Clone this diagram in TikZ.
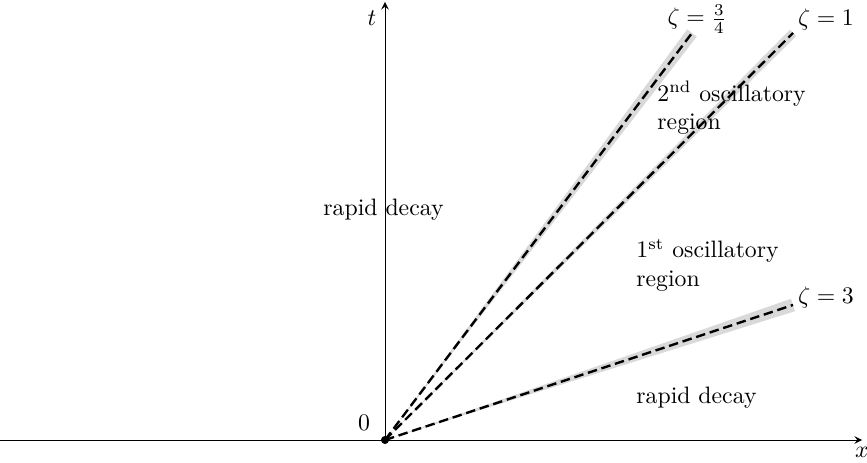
\documentclass[tikz,border=0pt]{standalone}
\usepackage{amsmath,amssymb}
\usetikzlibrary{arrows}

\tikzset{ray/.style={line width=1pt,dash pattern=on 4pt off 2pt},
band/.style={fill=black!15,draw=none}}

\begin{document}
\begin{tikzpicture}[x=0.0148cm,y=0.0148cm]
\useasboundingbox (-385,-23) rectangle (482,440);

\coordinate (O) at (0,0);
\coordinate (X0) at (-385,0);
\coordinate (X1) at (477,0);
\coordinate (T1) at (0,438);

\coordinate (E1) at (307,407);
\coordinate (E2) at (408,407);
\coordinate (E3) at (408,135);

\fill[band] (O) -- (302.2,410.6) -- (311.8,403.4) -- cycle;
\fill[band] (O) -- (404.8,410.2) -- (411.2,403.8) -- cycle;
\fill[band] (O) -- (406,141.2) -- (410,128.8) -- cycle;

\path[->, >=stealth] (X0) edge [] node[]{} (X1);
\path[->, >=stealth] (O) edge [] node[]{} (T1);

\draw[ray] (O) -- (E1);
\draw[ray] (O) -- (E2);
\draw[ray] (O) -- (E3);

\fill (O) circle (1.7pt);

\node[] (Lx) at (477,-12) {$x$};
\node[] (Lt) at (-13,422) {$t$};
\node[] (L0) at (-21,17) {$0$};

\node[] (Z1) at (312,421) {$\zeta=\frac{3}{4}$};
\node[] (Z2) at (441,420) {$\zeta=1$};
\node[] (Z3) at (441,142) {$\zeta=3$};

\node[] (R1) at (-1.5,230) {rapid decay};
\node[anchor=west,align=left] (R2) at (264,332) {2\textsuperscript{nd} oscillatory\\region};
\node[anchor=west,align=left] (R3) at (243,175) {1\textsuperscript{st} oscillatory\\region};
\node[anchor=west] (R4) at (243,42) {rapid decay};
\end{tikzpicture}
\end{document}
